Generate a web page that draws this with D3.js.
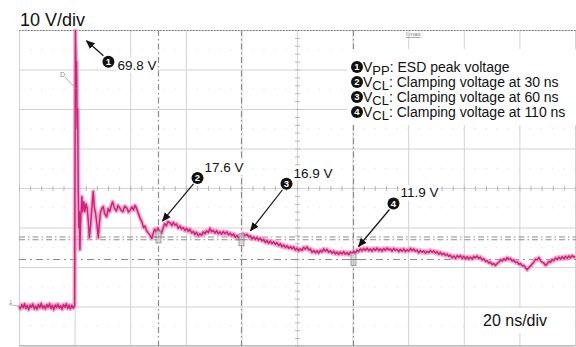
<!DOCTYPE html>
<html>
<head>
<meta charset="utf-8">
<script src="https://cdn.jsdelivr.net/npm/d3@7"></script>
<style>
  body { margin: 0; background: #fff; }
  svg { display: block; }
  text { font-family: "Liberation Sans", Arial, sans-serif; }
</style>
</head>
<body>
<svg id="scope" width="576" height="347"></svg>
<script>
// Graticule: 20 ns/div horizontally, 10 V/div vertically
const timeGrid = [-20, 0, 20, 40, 60, 80, 100, 120, 140, 160, 180];   // ns
const voltGrid = [-10, 0, 10, 20, 30, 40, 50, 60, 70];                 // V

// ESD pulse captured on the protected line: [time ns, voltage V]
const trace = [
  [-20,0.2],[-19.5,-0.6],[-19,0.5],[-18.5,-0.3],[-18,0.7],[-17.5,-0.5],[-17,0.3],[-16.5,-0.8],
  [-16,0.4],[-15.5,-0.2],[-15,0.6],[-14.5,-0.6],[-14,0.1],[-13.5,-0.7],[-13,0.5],[-12.5,-0.3],
  [-12,0.8],[-11.5,-0.4],[-11,0.2],[-10.5,-0.6],[-10,0.5],[-9.5,-0.2],[-9,0.7],[-8.5,-0.5],
  [-8,0.3],[-7.5,-0.8],[-7,0.4],[-6.5,-0.3],[-6,0.6],[-5.5,-0.4],[-5,0.2],[-4.5,-0.7],
  [-4,0.5],[-3.5,-0.2],[-3,0.7],[-2.5,-0.5],[-2,0.4],[-1.5,-0.6],[-1,0.3],[-0.5,-0.4],[0,0.2],
  [0.15,35],[0.3,69.8],[0.5,60],[0.7,62],[0.9,45],[1.1,50],[1.3,30],[1.5,20],[1.7,24],[1.9,14.4],
  [2.2,22],[2.6,27.8],[2.9,24],[3.3,26.5],[3.7,24],[4.1,26],[4.5,25],[5.0,21],[5.3,17.4],[5.7,20],
  [6.1,24],[6.7,29.1],[7.1,25],[7.5,23.8],[8.0,21],[8.5,17.4],[8.9,21],[9.3,23.8],[9.8,24.8],
  [10.3,25.3],[10.8,23.5],[11.5,22.7],[12.1,24.8],[12.6,24.0],[13.2,25.6],[13.7,26.5],[14.3,24.9],
  [15.0,24.2],[15.6,25.6],[16.2,25.0],[16.8,24.3],[17.4,24.0],[18.0,25.4],[18.8,24.9],[19.4,23.9],
  [20.0,24.4],[20.6,25.2],[21.2,24.4],[21.7,25.6],[22.2,25.0],[22.8,23.8],[23.5,22.5],[24.2,21.4],
  [24.8,20.0],[25.3,20.4],[25.9,19.2],[26.4,18.7],[27.0,18.2],[27.8,17.2],[28.3,18.6],[28.8,19.6],
  [29.4,18.8],[29.9,19.9],[30.6,19.0],[31.3,18.6],[31.9,20.0],[32.4,21.0],[33.0,20.4],[33.6,21.5],
  [34.3,21.2],[35.0,20.5],[35.5,21.3],[36.1,20.6],[36.7,20.9],[37.3,19.8],[37.9,20.4],[38.5,19.6],
  [39.1,20.0],[39.7,19.2],[40.3,19.8],[40.9,19.0],[41.5,19.6],[42.1,18.6],[42.7,19.0],[43.3,18.2],
  [43.9,18.8],[44.5,17.9],[45.1,18.4],[45.7,18.0],[46.3,18.9],[46.9,18.4],[47.5,19.2],[48.1,18.7],
  [48.7,19.8],[49.3,18.9],[49.9,19.3],[50.5,18.6],[51.1,19.2],[51.7,18.4],[52.3,18.9],[52.9,18.3],
  [53.5,19.0],[54.1,18.4],[54.8,18.9],[55.4,18.1],[56.0,18.6],[56.6,17.9],[57.2,18.4],[57.8,17.5],
  [58.4,18.0],[59.0,17.3],[59.6,17.9],[60.2,17.6],[60.8,18.4],[61.4,17.9],[62.0,18.3],[62.6,17.6],
  [63.2,17.9],[63.8,17.1],[64.4,17.6],[65.0,17.0],[65.6,17.5],[66.2,16.8],[66.8,17.3],[67.4,16.6],
  [68.0,17.0],[68.6,16.2],[69.2,16.7],[69.8,16.0],[70.4,16.6],[71.0,15.9],[71.6,16.4],[72.2,15.7],
  [72.8,16.2],[73.4,15.4],[74.0,15.9],[74.6,15.1],[75.2,15.6],[75.8,14.9],[76.4,15.4],[77.0,14.7],
  [77.6,15.2],[78.2,14.6],[78.8,15.1],[79.4,14.3],[80.0,14.8],[80.6,14.1],[81.2,14.6],[81.8,14.2],
  [82.4,15.0],[83.0,14.5],[83.6,15.1],[84.2,14.3],[84.8,14.6],[85.4,13.7],[86.0,14.2],[86.6,13.6],
  [87.2,14.1],[87.8,13.5],[88.4,14.2],[89.0,13.8],[89.6,14.6],[90.2,14.0],[90.8,14.5],[91.4,13.7],
  [92.0,14.1],[92.6,13.5],[93.2,14.0],[93.8,13.3],[94.4,13.8],[95.0,13.2],[95.6,13.8],[96.2,13.3],
  [96.8,13.9],[97.4,13.2],[98.0,13.7],[98.6,13.1],[99.2,13.8],[99.8,13.4],[100.4,14.0],[101.0,13.6],
  [101.6,14.3],[102.2,13.9],[102.8,14.6],[103.4,14.1],[104.0,14.7],[104.6,14.2],[105.2,14.8],[105.8,14.1],
  [106.4,14.6],[107.0,14.0],[107.6,14.7],[108.2,14.2],[108.8,14.8],[109.4,14.1],[110.0,14.6],[110.6,14.0],
  [111.2,14.7],[111.8,14.2],[112.4,14.8],[113.0,14.3],[113.6,14.6],[114.2,14.0],[114.8,14.7],[115.4,14.2],
  [116.0,14.5],[116.6,13.9],[117.2,14.5],[117.8,14.0],[118.4,14.6],[119.0,13.9],[119.6,14.4],[120.2,14.0],
  [120.8,14.7],[121.4,14.1],[122.0,14.6],[122.6,14.0],[123.2,14.3],[123.8,13.6],[124.4,14.2],[125.0,13.7],
  [125.6,14.1],[126.2,13.5],[126.8,14.0],[127.4,13.6],[128.0,14.2],[128.6,13.7],[129.2,14.1],[129.8,13.5],
  [130.4,13.9],[131.0,13.2],[131.6,13.7],[132.2,13.1],[132.8,13.5],[133.4,12.9],[134.0,13.3],[134.6,12.7],
  [135.2,13.0],[135.8,12.3],[136.4,12.8],[137.0,12.2],[137.6,12.9],[138.2,12.4],[138.8,12.9],[139.4,12.2],
  [140.0,12.7],[140.6,12.1],[141.2,12.6],[141.8,12.0],[142.4,12.5],[143.0,12.0],[143.6,12.7],[144.2,12.3],
  [144.8,12.8],[145.4,12.2],[146.0,12.5],[146.6,11.8],[147.2,12.1],[147.8,11.4],[148.4,11.6],[149.0,11.0],
  [149.6,11.2],[150.2,10.6],[150.8,10.9],[151.4,10.4],[152.0,10.9],[152.6,11.2],[153.2,11.8],[153.8,11.5],
  [154.4,12.1],[155.0,11.7],[155.6,12.4],[156.2,11.9],[156.8,12.2],[157.4,11.5],[158.0,11.7],[158.6,11.1],
  [159.2,11.3],[159.8,10.7],[160.4,10.9],[161.0,10.3],[161.6,10.4],[162.2,9.8],[162.8,9.3],[163.4,9.9],
  [164.0,10.2],[164.6,10.8],[165.2,11.2],[165.8,12.0],[166.4,11.8],[167.0,12.4],[167.6,11.6],[168.2,11.2],
  [168.8,11.0],[169.4,10.4],[170.0,10.8],[170.6,11.4],[171.2,11.2],[171.8,11.9],[172.4,11.6],[173.0,12.3],
  [173.6,11.9],[174.2,12.5],[174.8,12.0],[175.4,12.6],[176.0,12.1],[176.6,12.7],[177.2,12.2],[177.8,12.8],
  [178.4,12.3],[179.0,12.9],[179.6,12.5],[180.0,12.8]
];

// Measured points
const peakPoint = { n: 1, t: 0.3, v: 69.8 };
const clampPoints = [
  { n: 2, t: 30,  v: 17.6 },
  { n: 3, t: 60,  v: 16.9 },
  { n: 4, t: 100, v: 11.9 }
];

// Legend entries
const legendItems = [
  { n: 1, sym: "V", sub: "PP", text: ": ESD peak voltage" },
  { n: 2, sym: "V", sub: "CL", text: ": Clamping voltage at 30 ns" },
  { n: 3, sym: "V", sub: "CL", text: ": Clamping voltage at 60 ns" },
  { n: 4, sym: "V", sub: "CL", text: ": Clamping voltage at 110 ns" }
];

const svg = d3.select("#scope");
const plotL = 19, plotR = 575, plotT = 30, plotB = 346;
const x = d3.scaleLinear().domain([-20, 180]).range([plotL, plotR]);
const y = d3.scaleLinear().domain([-10, 70]).range([plotB, plotT]);

const gridColor = "#d2d2d2";
const cursorColor = "#8c8c8c";
const traceColor = "#d41f7b";

// Faint dotted half-division rows
svg.append("g").selectAll("line")
  .data(d3.pairs(voltGrid).map(p => (p[0] + p[1]) / 2))
  .join("line")
  .attr("x1", plotL).attr("x2", plotR)
  .attr("y1", d => y(d)).attr("y2", d => y(d))
  .attr("stroke", "#e2e2e2").attr("stroke-dasharray", "1.5,9.6");

// Graticule drawn with axes
const gx = svg.append("g")
  .attr("transform", `translate(0,${plotB})`)
  .call(d3.axisBottom(x).tickValues(timeGrid).tickSize(-(plotB - plotT)).tickFormat(""));
gx.select(".domain").remove();
gx.selectAll(".tick line").attr("stroke", gridColor);

const gy = svg.append("g")
  .attr("transform", `translate(${plotL},0)`)
  .call(d3.axisLeft(y).tickValues(voltGrid).tickSize(-(plotR - plotL)).tickFormat(""));
gy.select(".domain").remove();
gy.selectAll(".tick line").attr("stroke", gridColor);

// Centre cross with minor ticks
const midT = 80, midV = 30;
svg.append("g").selectAll("line")
  .data(d3.range(-20, 181, 4))
  .join("line")
  .attr("x1", d => x(d) + 0.5).attr("x2", d => x(d) + 0.5)
  .attr("y1", y(midV) - 2).attr("y2", y(midV) + 3)
  .attr("stroke", "#b8b8b8");
svg.append("g").selectAll("line")
  .data(d3.range(-10, 71, 2))
  .join("line")
  .attr("y1", d => y(d) + 0.5).attr("y2", d => y(d) + 0.5)
  .attr("x1", x(midT) - 2).attr("x2", x(midT) + 3)
  .attr("stroke", "#b8b8b8");

// Frame: dotted top edge
svg.append("line")
  .attr("x1", plotL).attr("x2", plotR + 1).attr("y1", plotT + 0.5).attr("y2", plotT + 0.5)
  .attr("stroke", "#777").attr("stroke-dasharray", "1.5,1.5");
svg.append("line")
  .attr("x1", plotL).attr("x2", plotR + 1).attr("y1", plotB - 0.5).attr("y2", plotB - 0.5)
  .attr("stroke", "#bbb");

// Time cursors
svg.append("g").selectAll("line")
  .data(clampPoints)
  .join("line")
  .attr("x1", d => Math.round(x(d.t)) + 0.5).attr("x2", d => Math.round(x(d.t)) + 0.5)
  .attr("y1", plotT).attr("y2", plotB)
  .attr("stroke", cursorColor).attr("stroke-width", 1.2)
  .attr("stroke-dasharray", "6,3,1.5,3");

// Voltage cursors
svg.append("g").selectAll("line")
  .data(clampPoints)
  .join("line")
  .attr("x1", plotL).attr("x2", plotR + 1)
  .attr("y1", d => y(d.v)).attr("y2", d => y(d.v))
  .attr("stroke", cursorColor).attr("stroke-width", 1.2)
  .attr("stroke-dasharray", d => d.n === 4 ? "7,4,2,4" : "6,3,1.5,3");

// Waveform: soft persistence band under a sharper trace
const line = d3.line().x(d => x(d[0])).y(d => y(d[1]));
svg.append("path").datum(trace)
  .attr("d", line).attr("fill", "none")
  .attr("stroke", "#ec94c0").attr("stroke-width", 4.4).attr("stroke-opacity", 0.75)
  .attr("stroke-linejoin", "round");
svg.append("path").datum(trace)
  .attr("d", line).attr("fill", "none")
  .attr("stroke", traceColor).attr("stroke-width", 1.5).attr("stroke-linejoin", "round");

// Cursor crossing markers
const mk = svg.append("g").selectAll("g").data(clampPoints).join("g")
  .attr("transform", d => `translate(${Math.round(x(d.t)) + 0.5},${y(d.v)})`);
mk.append("rect").attr("x", -2.5).attr("y", -6).attr("width", 5).attr("height", 12)
  .attr("fill", "#d0d0d0").attr("fill-opacity", 0.7).attr("stroke", "#8a8a8a").attr("stroke-width", 0.8);
mk.append("line").attr("x1", -6).attr("x2", 6).attr("y1", 0).attr("y2", 0)
  .attr("stroke", "#8a8a8a").attr("stroke-width", 1);

// Small scope markers: trigger tag and channel-1 reference
svg.append("text").attr("x", 60).attr("y", 77).attr("font-size", 7).attr("fill", "#888").text("D");
svg.append("line").attr("x1", 65).attr("y1", 77).attr("x2", x(0.6)).attr("y2", 89)
  .attr("stroke", "#999").attr("stroke-width", 0.8);
svg.append("text").attr("x", 9).attr("y", y(0) - 3).attr("font-size", 6).attr("fill", "#999").text("1");
svg.append("line").attr("x1", 9).attr("y1", y(0) - 2).attr("x2", plotL + 2).attr("y2", y(0))
  .attr("stroke", "#aaa").attr("stroke-width", 0.8);

// Title and time base
svg.append("text").attr("x", 20).attr("y", 26).attr("font-size", 18).attr("fill", "#111").text("10 V/div");

svg.append("rect").attr("x", 477).attr("y", 308).attr("width", 87).attr("height", 25).attr("fill", "#fff");
svg.append("text").attr("x", 483).attr("y", 326).attr("font-size", 16).attr("fill", "#111").text("20 ns/div");

// Cursor readout tag at the top
svg.append("text").attr("x", 406).attr("y", 36).attr("font-size", 6).attr("fill", "#777")
  .attr("text-decoration", "underline").text("I max");

// Arrow head
svg.append("defs").append("marker")
  .attr("id", "head").attr("viewBox", "0 0 10 10").attr("refX", 9).attr("refY", 5)
  .attr("markerWidth", 9).attr("markerHeight", 9).attr("markerUnits", "userSpaceOnUse")
  .attr("orient", "auto")
  .append("path").attr("d", "M0,0.8 L10,5 L0,9.2 Z").attr("fill", "#111");

function badge(g, cx, cy, n) {
  g.append("circle").attr("cx", cx).attr("cy", cy).attr("r", 6).attr("fill", "#111");
  g.append("text").attr("x", cx).attr("y", cy + 3.4).attr("text-anchor", "middle")
    .attr("font-size", 9.5).attr("font-weight", "bold").attr("fill", "#fff").text(n);
}

function valueText(g, tx, ty, label) {
  const t = g.append("text").attr("x", tx).attr("y", ty).attr("font-size", 13.5).attr("fill", "#111").text(label);
  const b = t.node().getBBox();
  g.insert("rect", "text").attr("x", b.x - 1).attr("y", b.y).attr("width", b.width + 2).attr("height", b.height)
    .attr("fill", "#fff");
}

// Peak annotation
{
  const g = svg.append("g");
  const px = x(peakPoint.t), py = y(peakPoint.v);
  g.append("line").attr("x1", px + 28).attr("y1", py + 25).attr("x2", px + 11).attr("y2", py + 10)
    .attr("stroke", "#111").attr("stroke-width", 1.2).attr("marker-end", "url(#head)");
  badge(g, px + 33, py + 31, peakPoint.n);
  valueText(g, px + 42, py + 39, `${peakPoint.v} V`);
}

// Clamping annotations
const clampLayout = {
  2: { c: [39, -59], tip: [4, -16] },
  3: { c: [45, -56], tip: [9, -9] },
  4: { c: [40, -56], tip: [5, -13] }
};
clampPoints.forEach(d => {
  const g = svg.append("g");
  const px = Math.round(x(d.t)) + 0.5, py = y(d.v);
  const L = clampLayout[d.n];
  const cx = px + L.c[0], cy = py + L.c[1];
  g.append("line").attr("x1", cx - 4).attr("y1", cy + 6).attr("x2", px + L.tip[0]).attr("y2", py + L.tip[1])
    .attr("stroke", "#111").attr("stroke-width", 1.2).attr("marker-end", "url(#head)");
  valueText(g, cx + 7, cy - 6, `${d.v} V`);
  badge(g, cx, cy, d.n);
});

// Legend
const lg = svg.append("g");
lg.append("rect").attr("x", 347).attr("y", 49).attr("width", 229).attr("height", 76).attr("fill", "#fff");
legendItems.forEach((d, i) => {
  const base = 72 + i * 15;
  badge(lg, 357, base - 5, d.n);
  const t = lg.append("text").attr("x", 363).attr("y", base).attr("font-size", 14).attr("fill", "#111");
  t.append("tspan").text(d.sym);
  t.append("tspan").attr("dy", 3).attr("font-size", 13).text(d.sub);
  t.append("tspan").attr("dy", -3).text(d.text);
});
</script>
</body>
</html>
